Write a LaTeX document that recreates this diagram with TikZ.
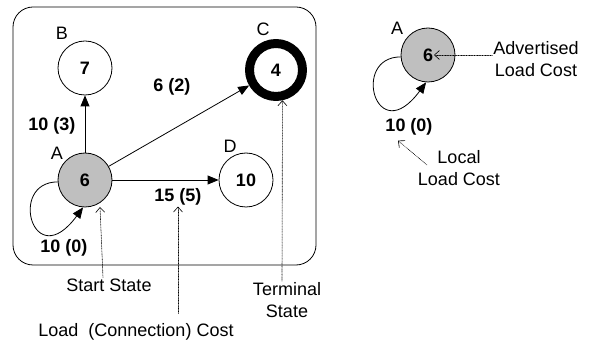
\documentclass[tikz,border=0pt]{standalone}
\usepackage{fontspec}
\setmainfont{Liberation Sans}
\usetikzlibrary{arrows.meta}
\newcommand{\figfont}{\fontsize{18}{22}\selectfont}
\tikzset{
  state/.style={circle,draw,line width=0.8pt,minimum size=54pt,inner sep=0pt,font=\figfont\bfseries},
  cost/.style={font=\figfont\bfseries,inner sep=1pt},
  note/.style={densely dotted,line width=0.6pt,-{Straight Barb[length=5pt,width=9pt]}}
}
\begin{document}
\begin{tikzpicture}[line cap=round,line join=round,x=1pt,y=1pt,font=\figfont,
    >={Triangle[length=11pt,width=9pt]},inner sep=1pt]
		\useasboundingbox (0,0) rectangle (597,340);
		% Cadre
		\draw[line width=0.8pt,rounded corners=20pt] (13,333) rectangle (316,75);
		% Etats
		\node[state,fill=black!25] (A) at (85,160) {6};
		\node[state] (B) at (85,272) {7};
		\node[state,line width=9pt,minimum size=53pt] (C) at (276,270) {4};
		\node[state] (D) at (246,160) {10};
		% noms des etats
		\node (lA) at (57,187) {A};
		\node (lB) at (62,307) {B};
		\node (lC) at (263,311) {C};
		\node (lD) at (230,194) {D};
		% transitions
		\draw[line width=0.8pt,->] (A) -- (B);
		\draw[line width=0.8pt,->] (A) -- (C);
		\draw[line width=0.8pt,->] (A) -- (D);
		\draw[line width=0.8pt,->] (A.184) .. controls +(-50,0) and +(-50,-68) .. (A.-94);
		\node[cost] (c3) at (52,214) {10 (3)};
		\node[cost] (c2) at (172,253) {6 (2)};
		\node[cost] (c5) at (178,143) {15 (5)};
		\node[cost] (c0) at (64,92) {10 (0)};
		% legendes
		\node (start) at (109,55) {Start State};
		\node (lcost) at (136,8) {Load\ \ (Connection) Cost};
		\node[align=center] (term) at (287,40) {Terminal\\State};
		\coordinate (startTip) at (100,133);
		\draw[note] ([xshift=-6pt]start.north) -- (startTip);
		\draw[note] ([xshift=42pt,yshift=9pt]lcost.north) -- (c5.south);
		\draw[note] ([xshift=-5pt]term.north) -- (C.-78);
		% Etat seul
		\node[state,fill=black!25] (A2) at (428,285) {6};
		\node (lA2) at (397,312) {A};
		\draw[line width=0.8pt,->] (A2.184) .. controls +(-50,0) and +(-50,-68) .. (A2.-94);
		\node[cost] (c02) at (409,213) {10 (0)};
		\node[align=center] (adv) at (536,281) {Advertised\\Load Cost};
		\node[align=center] (local) at (459,172) {Local\\Load Cost};
		\coordinate (localTail) at (427,175);
		\draw[note] (adv.west |- A2) -- ([xshift=6pt]A2.center);
		\draw[note] (localTail) -- ([xshift=-11pt,yshift=-4pt]c02.south);
\end{tikzpicture}
\end{document}
